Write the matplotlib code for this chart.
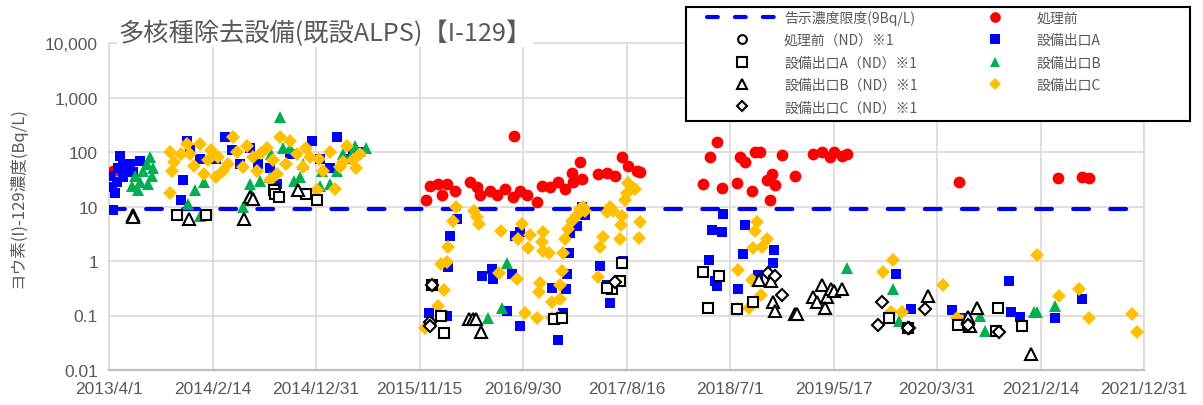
import numpy as np
import pandas as pd
import matplotlib
matplotlib.use("Agg")
import matplotlib.pyplot as plt
from matplotlib.lines import Line2D
from matplotlib.patches import Rectangle

plt.rcParams['font.family'] = ['Noto Sans CJK JP', 'DejaVu Sans']

TITLE = "多核種除去設備(既設ALPS)【I-129】"
YLABEL = "ヨウ素(I)-129濃度(Bq/L)"
LIMIT = 9.0
X_START = "2013-04-01"
X_END = "2021-12-31"
x_tick_labels = ["2013/4/1", "2014/2/14", "2014/12/31", "2015/11/15", "2016/9/30",
                 "2017/8/16", "2018/7/1", "2019/5/17", "2020/3/31", "2021/2/14",
                 "2021/12/31"]
y_ticks = [0.01, 0.1, 1, 10, 100, 1000, 10000]
y_tick_labels = ["0.01", "0.1", "1", "10", "100", "1,000", "10,000"]

# 処理前
pre_dates = ["2013-04-13", "2015-12-05", "2015-12-17", "2016-01-12", "2016-01-24", "2016-02-09",
             "2016-03-03", "2016-04-20", "2016-05-10", "2016-05-20", "2016-06-20", "2016-07-12",
             "2016-08-06", "2016-08-31", "2016-09-02", "2016-09-21", "2016-10-13", "2016-11-13",
             "2016-11-29", "2016-12-23", "2017-01-15", "2017-02-08", "2017-03-01", "2017-03-05",
             "2017-03-26", "2017-04-01", "2017-05-20", "2017-06-17", "2017-07-11", "2017-08-02",
             "2017-08-20", "2017-09-18", "2017-09-28", "2018-04-09", "2018-04-30", "2018-05-22",
             "2018-06-07", "2018-07-23", "2018-08-02", "2018-08-17", "2018-09-08", "2018-09-17",
             "2018-10-02", "2018-10-24", "2018-11-03", "2018-11-09", "2018-11-18", "2018-12-10",
             "2019-01-19", "2019-03-14", "2019-04-11", "2019-05-05", "2019-05-20", "2019-06-11",
             "2019-06-27", "2020-06-08", "2021-04-09", "2021-06-23", "2021-07-14"]
pre_vals = [45, 13, 24, 26, 16, 26,
            19, 28, 23, 16, 19, 16,
            21, 15, 200, 19, 16, 12,
            24, 23, 28, 21, 42, 28,
            65, 32, 39, 42, 37, 81,
            55, 45, 43, 26, 81, 150,
            22, 27, 81, 65, 19, 100,
            100, 30, 13, 39, 25, 88,
            37, 92, 100, 81, 100, 85,
            92, 28, 33, 35, 34]

# 設備出口A
a_dates = ["2013-04-13", "2013-04-05", "2013-04-10", "2013-04-20", "2013-04-25", "2013-05-05",
           "2013-05-15", "2013-05-15", "2013-06-05", "2013-06-15", "2013-07-05", "2013-05-25",
           "2013-04-30", "2013-11-08", "2013-11-14", "2013-11-29", "2013-12-08", "2014-01-08",
           "2014-02-24", "2014-03-26", "2014-04-16", "2014-05-10", "2014-06-10", "2014-07-05",
           "2014-08-10", "2014-09-01", "2014-10-12", "2014-12-18", "2015-01-12", "2015-02-12",
           "2015-03-05", "2015-03-30", "2015-04-25", "2015-05-15",
           "2015-12-15", "2016-02-09", "2016-02-12", "2016-02-18", "2016-03-12", "2016-05-27",
           "2016-06-26", "2016-06-29", "2016-08-13", "2016-08-28", "2016-09-07", "2016-09-22",
           "2016-09-22", "2016-12-29", "2017-01-17", "2017-02-02", "2017-02-11", "2017-02-14",
           "2017-02-20", "2017-02-23", "2017-03-17", "2017-04-01", "2017-04-10", "2017-05-26",
           "2017-06-17", "2017-06-26", "2017-08-05",
           "2018-06-09", "2018-05-07", "2018-06-06", "2018-04-27", "2018-05-16", "2018-05-22",
           "2018-08-17", "2018-08-10", "2018-11-15", "2018-11-12", "2018-09-25", "2018-07-26",
           "2019-11-25", "2020-01-12", "2020-05-18", "2020-06-16", "2020-11-10", "2020-11-16",
           "2020-12-13", "2021-03-30", "2021-06-23"]
a_vals = [8.7, 36, 23, 18, 28, 85,
          35, 60, 60, 43, 68, 45,
          50, 13, 30, 160, 110, 75,
          75, 190, 110, 60, 120, 60,
          50, 26, 90, 160, 75, 50,
          190, 75, 110, 100,
          0.11, 0.1, 0.77, 2.9, 5.8, 0.52,
          0.7, 0.47, 0.12, 0.58, 2.9, 3.4,
          0.065, 0.32, 0.035, 0.11, 0.3, 0.58,
          1.4, 3.2, 4.4, 10, 7, 0.8,
          0.36, 0.17, 1.0,
          7.2, 3.7, 3.4, 1.04, 0.43, 0.35,
          4.6, 1.35, 1.6, 0.9, 0.55, 0.3,
          0.58, 0.13, 0.125, 0.09, 0.43, 0.115,
          0.095, 0.09, 0.2]

# 設備出口B
b_dates = ["2013-06-10", "2013-06-19", "2013-07-05", "2013-07-14", "2013-07-27", "2013-08-05",
           "2013-06-29", "2013-07-30", "2013-08-12", "2013-08-15",
           "2013-12-01", "2014-01-08", "2013-12-24", "2014-01-18", "2014-02-17", "2014-05-20",
           "2014-06-01", "2014-06-10", "2014-07-10", "2014-08-10", "2014-09-11", "2014-09-20",
           "2014-10-12", "2014-11-12", "2015-01-12", "2015-02-12", "2015-03-25", "2015-04-30",
           "2015-06-05", "2014-06-12", "2014-08-15", "2014-10-25", "2014-11-20", "2015-01-20",
           "2015-03-05", "2015-04-20",
           "2016-06-15", "2016-07-28", "2016-08-13",
           "2019-06-27", "2019-11-18", "2019-12-07",
           "2020-08-12", "2020-08-27", "2021-01-24", "2021-02-05", "2021-04-01"]
b_vals = [24, 37, 28, 45, 60, 80,
          20, 26, 37, 50,
          11, 6.7, 20, 28, 90, 10,
          13, 26, 29, 35, 440, 120,
          120, 35, 24, 26, 90, 130,
          120, 18, 90, 29, 60, 45,
          45, 90,
          0.09, 0.14, 0.9,
          0.74, 0.3, 0.08,
          0.1, 0.053, 0.115, 0.115, 0.15]

# 設備出口C
c_dates = ["2013-10-07", "2013-10-13", "2013-10-07", "2013-11-28", "2013-12-07", "2014-01-08",
           "2014-02-01", "2014-02-24", "2014-03-18", "2014-04-18", "2014-05-01", "2014-05-20",
           "2014-06-20", "2014-07-01", "2014-08-01", "2014-08-20", "2014-09-01", "2014-09-11",
           "2014-10-12", "2014-11-02", "2014-11-22", "2014-12-13", "2015-01-03", "2015-01-22",
           "2015-02-12", "2015-02-28", "2015-03-15", "2015-04-05", "2015-04-25", "2015-05-05",
           "2013-10-20", "2013-11-10", "2013-12-20", "2014-01-20", "2014-02-10", "2014-03-05",
           "2014-04-05", "2014-06-01", "2014-07-15", "2014-08-10", "2014-10-01", "2014-12-01",
           "2015-01-10", "2015-03-25", "2015-05-15",
           "2015-12-03", "2016-01-12", "2016-01-31", "2016-01-21", "2016-02-09", "2016-02-12",
           "2016-02-28", "2016-03-09", "2016-05-01", "2016-05-12", "2016-05-16", "2016-07-26",
           "2016-07-17", "2016-09-12", "2016-09-15", "2016-09-28", "2016-10-16", "2016-10-22",
           "2016-10-07", "2016-11-13", "2016-11-20", "2016-11-23", "2016-11-29", "2016-12-02",
           "2016-12-02", "2016-12-21", "2016-12-30", "2016-12-30", "2017-01-15", "2017-01-24",
           "2017-01-24", "2017-01-30", "2017-02-02", "2017-02-08", "2017-02-17", "2017-03-01",
           "2017-03-17", "2017-03-26", "2017-04-04", "2017-04-10", "2017-05-20", "2017-05-26",
           "2017-06-04", "2017-06-17", "2017-06-26", "2017-07-05", "2017-07-26", "2017-07-29",
           "2017-08-02", "2017-08-11", "2017-08-17", "2017-08-20", "2017-09-11", "2017-09-28",
           "2017-09-24",
           "2018-09-23", "2018-09-17", "2018-10-24", "2018-10-08", "2018-09-11", "2018-07-26",
           "2018-09-08", "2018-10-05", "2018-07-26", "2018-08-29", "2019-11-16", "2019-10-16",
           "2019-11-10", "2019-12-15",
           "2020-04-20", "2020-06-02", "2020-06-17", "2021-02-05", "2021-04-12", "2021-06-13",
           "2021-07-14", "2021-11-25", "2021-12-10"]
c_vals = [18, 45, 100, 140, 90, 140,
          70, 35, 45, 190, 100, 53,
          80, 45, 120, 70, 40, 190,
          160, 90, 53, 80, 20, 45,
          100, 21, 53, 130, 70, 50,
          65, 90, 55, 40, 110, 80,
          60, 130, 95, 30, 60, 120,
          75, 65, 90,
          0.06, 0.15, 0.29, 0.87, 0.95, 1.8,
          5.4, 10, 8.4, 6.3, 4.8, 3.6,
          0.6, 0.47, 2.5, 4.8, 1.7, 3.0,
          0.11, 0.09, 0.27, 0.4, 2.2, 3.4,
          1.5, 1.4, 0.09, 0.18, 0.095, 0.37,
          0.2, 0.66, 1.4, 2.5, 3.9, 5.4,
          7, 8.9, 10, 8.4, 0.5, 1.8,
          2.8, 8, 10, 8.4, 2.5, 4.5,
          6.6, 13, 18, 27, 21, 5.2,
          2.6,
          5.2, 3.6, 2.5, 1.8, 1.7, 0.68,
          0.44, 0.24, 0.13, 0.14, 1.05, 0.63,
          0.115, 0.115,
          0.36, 0.09, 0.08, 1.3, 0.23, 0.3,
          0.09, 0.105, 0.05]

# 処理前（ND）
pre_nd_dates = ["2015-12-23", "2015-12-17"]
pre_nd_vals = [0.37, 0.07]

# 設備出口A（ND）
a_nd_dates = ["2013-10-29", "2014-01-25", "2014-08-22", "2014-08-28", "2014-09-07", "2014-12-01",
              "2015-01-03", "2015-12-23", "2016-01-21", "2016-01-31", "2017-01-03", "2017-01-30",
              "2017-08-02", "2017-07-26", "2017-07-01", "2017-06-17", "2018-04-09", "2018-05-28",
              "2018-04-24", "2018-07-23", "2018-09-11", "2019-11-04", "2020-01-01", "2020-06-06",
              "2020-10-05", "2020-09-29", "2020-12-20"]
a_nd_vals = [7, 7, 20, 17, 15, 17,
             13, 0.37, 0.1, 0.048, 0.085, 0.09,
             0.93, 0.43, 0.3, 0.32, 0.63, 0.52,
             0.14, 0.13, 0.18, 0.09, 0.06, 0.066,
             0.14, 0.053, 0.063]

# 設備出口B（ND）
b_nd_dates = ["2013-06-13", "2013-06-13", "2013-12-05", "2014-05-23", "2014-06-10", "2014-06-20",
              "2014-11-05", "2016-04-16", "2016-04-28", "2016-05-07", "2016-05-23", "2018-09-28",
              "2018-11-06", "2018-11-12", "2018-11-18", "2019-01-19", "2019-01-25", "2019-03-14",
              "2019-03-26", "2019-04-11", "2019-04-26", "2019-05-11", "2019-05-20", "2019-06-11",
              "2019-04-20", "2020-03-05", "2020-08-01", "2020-07-06", "2020-07-12", "2021-01-15"]
b_nd_vals = [7, 6.5, 6, 6, 15, 14,
             20, 0.085, 0.088, 0.085, 0.05, 0.45,
             0.43, 0.18, 0.12, 0.106, 0.106, 0.22,
             0.18, 0.36, 0.22, 0.3, 0.28, 0.3,
             0.14, 0.23, 0.14, 0.093, 0.065, 0.02]

# 設備出口C（ND）
c_nd_dates = ["2015-12-18", "2015-12-17", "2015-12-23", "2017-07-10", "2018-10-27", "2018-11-18",
              "2018-12-10", "2019-10-13", "2019-10-01", "2020-01-04", "2020-02-25", "2020-01-02",
              "2020-07-06", "2020-10-08"]
c_nd_vals = [0.075, 0.065, 0.37, 0.42, 0.6, 0.52,
             0.24, 0.18, 0.067, 0.06, 0.13, 0.058,
             0.066, 0.05]

GRAY = "#595959"


def to_dt(dates):
    return pd.to_datetime(pd.Series(dates)).to_numpy()


fig = plt.figure(figsize=(12.03, 4.06), dpi=100)
ax = fig.add_axes([109 / 1203, 35 / 406, 1035 / 1203, 327 / 406])

x0 = pd.Timestamp(X_START)
x1 = pd.Timestamp(X_END)

ax.plot([x0, x1], [LIMIT, LIMIT], color="#0000FF", lw=3, dashes=(3.8, 5.1),
        dash_capstyle="round", zorder=2, label="告示濃度限度(9Bq/L)")

h_pre, = ax.plot(to_dt(pre_dates), pre_vals, "o", color="#FF0000", ms=8.5, mew=0,
                 zorder=3, label="処理前")
h_a, = ax.plot(to_dt(a_dates), a_vals, "s", color="#0000FF", ms=7.3, mew=0,
               zorder=4, label="設備出口A")
h_b, = ax.plot(to_dt(b_dates), b_vals, "^", color="#00B050", ms=8.5, mew=0,
               zorder=5, label="設備出口B")
h_c, = ax.plot(to_dt(c_dates), c_vals, "D", color="#FFC000", ms=7, mew=0,
               zorder=6, label="設備出口C")

nd_kw = dict(linestyle="none", mfc="white", mec="black", mew=1.5)
h_pnd, = ax.plot(to_dt(pre_nd_dates), pre_nd_vals, "o", ms=7, zorder=7,
                 label="処理前（ND）※1", **nd_kw)
h_and, = ax.plot(to_dt(a_nd_dates), a_nd_vals, "s", ms=7.5, zorder=8,
                 label="設備出口A（ND）※1", **nd_kw)
h_bnd, = ax.plot(to_dt(b_nd_dates), b_nd_vals, "^", ms=8, zorder=9,
                 label="設備出口B（ND）※1", **nd_kw)
h_cnd, = ax.plot(to_dt(c_nd_dates), c_nd_vals, "D", ms=6, zorder=10,
                 label="設備出口C（ND）※1", **nd_kw)

ax.set_yscale("log")
ax.set_ylim(0.01, 10000)
ax.set_yticks(y_ticks)
ax.set_yticklabels(y_tick_labels)
ax.minorticks_off()

xt = pd.date_range(x0, x1, periods=len(x_tick_labels))
ax.set_xlim(x0, x1)
ax.set_xticks(xt)
ax.set_xticklabels(x_tick_labels)

ax.tick_params(length=0, labelsize=12.5, labelcolor=GRAY, pad=8)
for lab in ax.get_xticklabels() + ax.get_yticklabels():
    lab.set_family(["Liberation Sans", "DejaVu Sans"])
ax.grid(True, color="#d9d9d9", lw=1.2, zorder=0)
ax.set_axisbelow(True)
for s in ["top", "right", "left"]:
    ax.spines[s].set_color("#d9d9d9")
    ax.spines[s].set_linewidth(1.2)
ax.spines["bottom"].set_color("#bfbfbf")
ax.spines["bottom"].set_linewidth(1.6)

fig.text(118 / 1203, 1 - 34 / 406, TITLE, fontsize=18.2, color=GRAY, ha="left", va="center",
         bbox=dict(facecolor="white", edgecolor="none", pad=1), zorder=20)
fig.text(17 / 1203, 1 - 198 / 406, YLABEL, fontsize=12, color=GRAY, rotation=90,
         ha="center", va="center")

# legend frame drawn on its own, wider than the legend entries
fig.patches.append(Rectangle((686 / 1203, 1 - 122 / 406), 504 / 1203, 114 / 406,
                             transform=fig.transFigure, facecolor="white",
                             edgecolor="black", lw=1.5, zorder=25))

dash_handle = Line2D([], [], color="#0000FF", lw=3, dashes=(2.6, 4.1), dash_capstyle="round")
handles = [dash_handle, h_pnd, h_and, h_bnd, h_cnd, h_pre, h_a, h_b, h_c]
labels = ["告示濃度限度(9Bq/L)"] + [h.get_label() for h in handles[1:]]
leg = fig.legend(handles, labels, ncol=2, loc="upper left",
                 bbox_to_anchor=(707 / 1203, 1 - 11 / 406), borderaxespad=0, borderpad=0,
                 fontsize=10, labelcolor=GRAY, frameon=False,
                 handlelength=5.1, handletextpad=0.45, columnspacing=3.0,
                 labelspacing=0.6, markerscale=0.9)
leg.set_zorder(30)

fig.savefig("out.png", dpi=100)
